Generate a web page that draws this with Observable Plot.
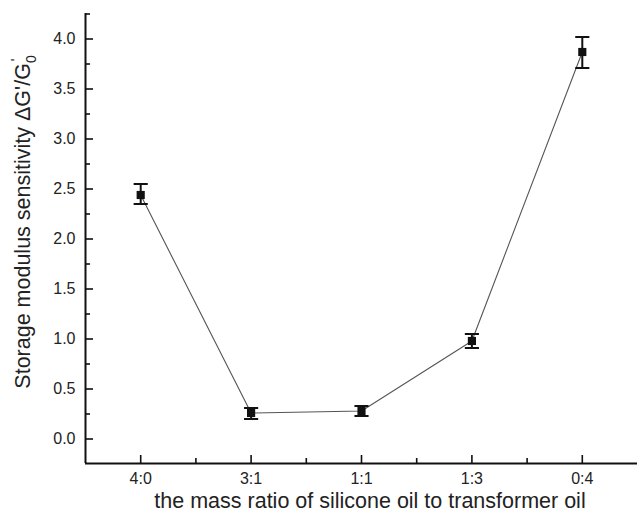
<!DOCTYPE html>
<html>
<head>
<meta charset="utf-8">
<script src="https://cdn.jsdelivr.net/npm/d3@7"></script>
<script src="https://cdn.jsdelivr.net/npm/@observablehq/plot@0.6"></script>
<style>
  html, body { margin: 0; padding: 0; background: #fff; }
  svg { display: block; }
</style>
</head>
<body>
<div id="chart"></div>
<script>
const categories = ["4:0", "3:1", "1:1", "1:3", "0:4"];
const values  = [2.44, 0.26, 0.28, 0.98, 3.87];
const errLow  = [2.35, 0.20, 0.23, 0.91, 3.71];
const errHigh = [2.55, 0.31, 0.33, 1.05, 4.02];
const yMajor = [0, 0.5, 1, 1.5, 2, 2.5, 3, 3.5, 4];
const yMinor = [0.25, 0.75, 1.25, 1.75, 2.25, 2.75, 3.25, 3.75, 4.25];
const xMajor = [0, 1, 2, 3, 4];
const xMinor = [0.5, 1.5, 2.5, 3.5];
const xLabel = "the mass ratio of silicone oil to transformer oil";

const data = categories.map((c, i) => ({i, c, v: values[i], lo: errLow[i], hi: errHigh[i]}));
const capHalf = 0.064;

const ink = "#111";
const svg = Plot.plot({
  width: 637,
  height: 521,
  marginLeft: 85,
  marginRight: 0,
  marginTop: 13,
  marginBottom: 58,
  style: {fontFamily: "Liberation Sans, Arial, sans-serif", fontSize: "16px", color: ink, background: "#fff"},
  x: {domain: [-0.5, 4.5], axis: null, label: null},
  y: {domain: [-0.245, 4.255], axis: null, label: null},
  marks: [
    Plot.ruleX([-0.5], {stroke: ink, strokeWidth: 2}),
    Plot.ruleY([-0.245], {stroke: ink, strokeWidth: 2}),
    Plot.axisY(yMajor, {anchor: "left", label: null, tickSize: -8, tickFormat: () => "", stroke: ink, strokeWidth: 1.6}),
    Plot.axisY(yMinor, {anchor: "left", label: null, tickSize: -5, tickFormat: () => "", stroke: ink, strokeWidth: 1.6}),
    Plot.axisY(yMajor, {anchor: "left", label: null, tickSize: 0, tickPadding: 10, tickFormat: d3.format(".1f"), fill: "#222", fontSize: 16}),
    Plot.axisX(xMajor, {anchor: "bottom", label: null, tickSize: -8, tickFormat: () => "", stroke: ink, strokeWidth: 1.6}),
    Plot.axisX(xMinor, {anchor: "bottom", label: null, tickSize: -5, tickFormat: () => "", stroke: ink, strokeWidth: 1.6}),
    Plot.axisX(xMajor, {anchor: "bottom", label: null, tickSize: 0, tickPadding: 9, tickFormat: i => categories[i], fill: "#222", fontSize: 16}),
    Plot.line(data, {x: "i", y: "v", stroke: "#555", strokeWidth: 1.1}),
    Plot.ruleX(data, {x: "i", y1: "lo", y2: "hi", stroke: ink, strokeWidth: 2}),
    Plot.link(data, {x1: d => d.i - capHalf, x2: d => d.i + capHalf, y1: "lo", y2: "lo", stroke: ink, strokeWidth: 2}),
    Plot.link(data, {x1: d => d.i - capHalf, x2: d => d.i + capHalf, y1: "hi", y2: "hi", stroke: ink, strokeWidth: 2}),
    Plot.dot(data, {x: "i", y: "v", symbol: "square", r: 4.6, fill: ink, stroke: "none"})
  ]
});

const s = d3.select(svg);
s.selectAll("g[aria-label$='tick label']")
  .attr("font-size", 16)
  .style("font-size", "16px");
s.selectAll("g[aria-label$='tick label'] text")
  .style("font-size", "16px");
s.append("text")
  .attr("x", 370).attr("y", 508)
  .attr("text-anchor", "middle")
  .attr("font-size", 21.5)
  .attr("fill", "#222")
  .text(xLabel);
const yt = s.append("text")
  .attr("transform", "translate(30,222) rotate(-90)")
  .attr("text-anchor", "middle")
  .attr("font-size", 21.5)
  .attr("fill", "#222");
yt.append("tspan").text("Storage modulus sensitivity \u0394G'/G");
yt.append("tspan").attr("font-size", 14).attr("dy", 6).text("0");
yt.append("tspan").attr("font-size", 14).attr("dx", -6).attr("dy", -15).text("'");

document.getElementById("chart").appendChild(svg);
</script>
</body>
</html>
